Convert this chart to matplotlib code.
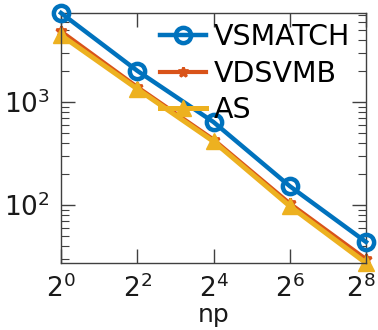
import matplotlib
matplotlib.use("Agg")
import matplotlib.pyplot as plt
import matplotlib.transforms as mtransforms
from matplotlib.ticker import FixedLocator, FixedFormatter, LogLocator, NullFormatter, NullLocator

np_vals = [1, 4, 16, 64, 256]
vsmatch = [7300, 2010, 640, 153, 44]
vdsvmb = [4850, 1400, 433, 104, 30]
as_vals = [4450, 1340, 415, 98, 27.5]
xtick_labels = ['$2^{0}$', '$2^{2}$', '$2^{4}$', '$2^{6}$', '$2^{8}$']
names = ['VSMATCH', 'VDSVMB', 'AS']

plt.rcParams['font.family'] = ['DejaVu Sans']
plt.rcParams['mathtext.default'] = 'regular'

fig = plt.figure(figsize=(3.78, 3.30), dpi=100)
ax = fig.add_axes([61/378, (330-263)/330, (366-61)/378, (263-13)/330])

ax.plot(np_vals, vsmatch, color='#0072BD', lw=3.2, marker='o', ms=11,
        mfc='none', mew=3.2, label=names[0], clip_on=False, zorder=3)
ax.plot(np_vals, vdsvmb, color='#D95319', lw=3.0, marker='*', ms=7,
        mew=2, label=names[1], clip_on=False, zorder=2)
ax.plot(np_vals, as_vals, color='#EDB120', lw=3.6, marker='^', ms=12,
        mfc='#EDB120', mew=1, label=names[2], clip_on=False, zorder=2.5)

ax.set_xscale('log', base=2)
ax.set_yscale('log')
ax.set_xlim(np_vals[0], np_vals[-1])
ax.set_ylim(min(as_vals), max(vsmatch))

ax.xaxis.set_major_locator(FixedLocator(np_vals))
ax.xaxis.set_major_formatter(FixedFormatter(xtick_labels))
ax.xaxis.set_minor_locator(NullLocator())
ax.yaxis.set_major_locator(LogLocator(base=10))
ax.yaxis.set_minor_locator(LogLocator(base=10, subs=range(2, 10)))
ax.yaxis.set_minor_formatter(NullFormatter())

axc = '#404040'
for s in ax.spines.values():
    s.set_color(axc)
    s.set_linewidth(1.0)
ax.tick_params(which='both', direction='in', top=True, right=True, colors=axc,
               labelcolor='#1a1a1a', labelsize=19, pad=8)
ax.tick_params(which='major', length=10, width=1)
ax.tick_params(which='minor', length=6, width=0.8)

ax.set_xlabel('np', fontsize=18, color='#1a1a1a', labelpad=0)

leg = ax.legend(loc='upper left', frameon=False, fontsize=20.5, handlelength=1.6,
                handletextpad=0.3, labelspacing=0.3, borderpad=0, borderaxespad=0,
                bbox_to_anchor=(0.325, 0.96))

fig.canvas.draw()
last = ax.get_xticklabels()[-1]
last.set_transform(last.get_transform() + mtransforms.ScaledTranslation(-5/100, 0, fig.dpi_scale_trans))

fig.savefig('out.png', dpi=100)
